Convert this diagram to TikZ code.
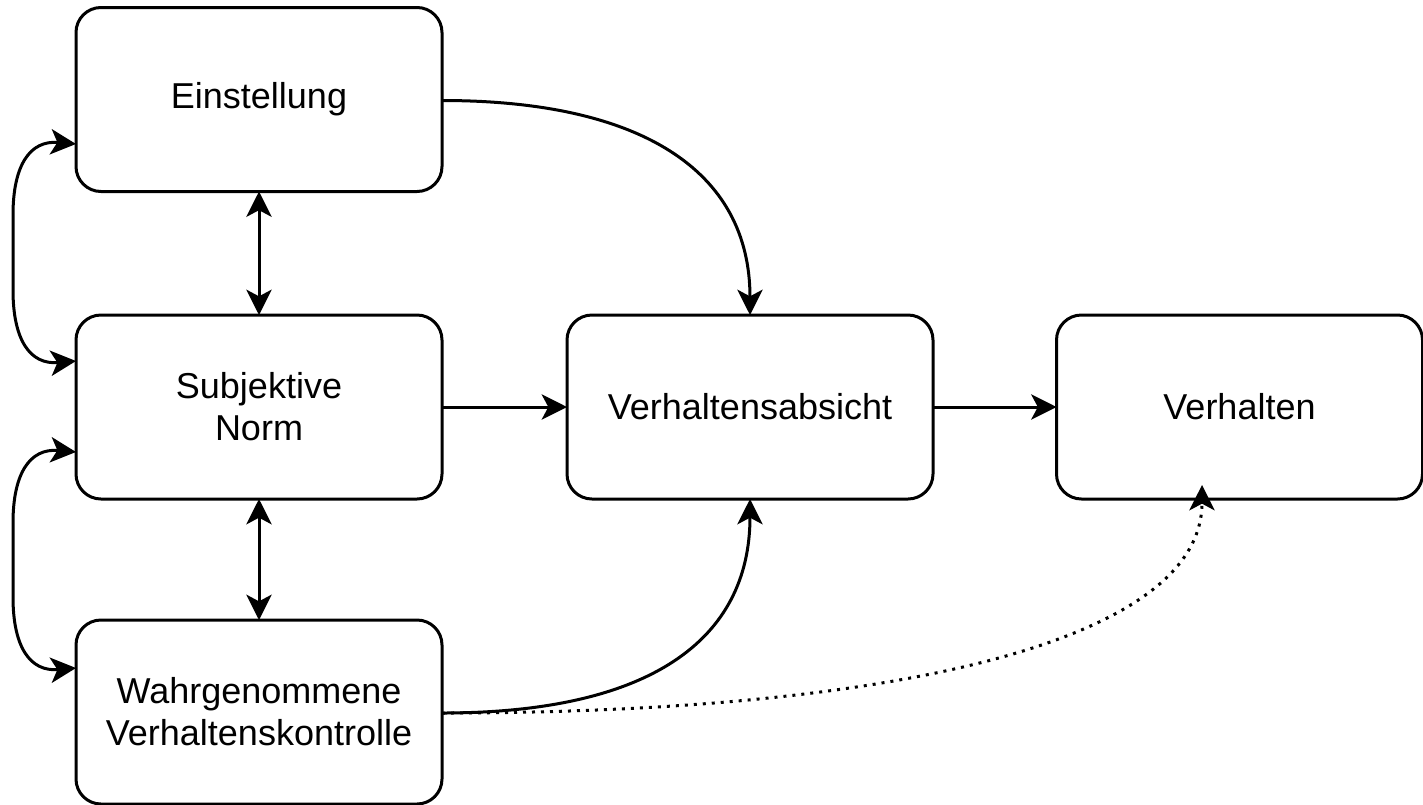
\documentclass[tikz,border=0pt]{standalone}
\usepackage{fontspec}
\setmainfont{Liberation Sans}
\usetikzlibrary{arrows.meta,calc}
\begin{document}
\begin{tikzpicture}[x=0.75pt,y=-0.75pt,
  box/.style={draw=black,line width=2.25pt,rounded corners=18.75pt,fill=white,
    minimum width=274.5pt,minimum height=138pt,inner sep=0pt,outer sep=0pt,
    align=center,font=\fontsize{27}{31.5}\selectfont},
  conn/.style={line width=2.25pt,-{Stealth[length=19pt,width=19pt,inset=5pt]}},
  biconn/.style={line width=2.25pt,{Stealth[length=19pt,width=19pt,inset=5pt]}-{Stealth[length=19pt,width=19pt,inset=5pt]}},
  dotconn/.style={conn,dash pattern=on 2.25pt off 4.5pt}]
\useasboundingbox (0,0) rectangle (1423,804);
\node[box] (E) at (259,99.5) {Einstellung};
\node[box] (SN) at (259,407) {Subjektive\\Norm};
\node[box] (W) at (259,712) {Wahrgenommene\\Verhaltenskontrolle};
\node[box] (VA) at (750,407) {Verhaltensabsicht};
\node[box] (V) at (1239.5,407) {Verhalten};
% vertical double arrows
\draw[biconn] (E.south) -- (SN.north);
\draw[biconn] (SN.south) -- (W.north);
% left curved double arrows
\draw[biconn] ($(E.west)+(0,44.5)$) .. controls (30,140) and (13,165) .. (13,215) -- (13,290) .. controls (13,340) and (30,365) .. ($(SN.west)+(0,-46)$);
\draw[biconn] ($(SN.west)+(0,45)$) .. controls (30,448) and (13,473) .. (13,523) -- (13,597) .. controls (13,647) and (30,672) .. ($(W.west)+(0,-44)$);
% straight arrows
\draw[conn] (SN.east) -- (VA.west);
\draw[conn] (VA.east) -- (V.west);
% curved arrows to Verhaltensabsicht
\draw[conn] ($(E.east)+(0,1)$) .. controls (640,100.5) and (750,170) .. (VA.north);
\draw[conn] ($(W.east)+(0,1)$) .. controls (650,713) and (750,640) .. (VA.south);
% dotted arrow to Verhalten
\coordinate (Vin) at ($(V.south)+(-37.5,-14)$);
\draw[dotconn] ($(W.east)+(0,1)$) .. controls (900,713) and (1202,640) .. (Vin);
\end{tikzpicture}
\end{document}
